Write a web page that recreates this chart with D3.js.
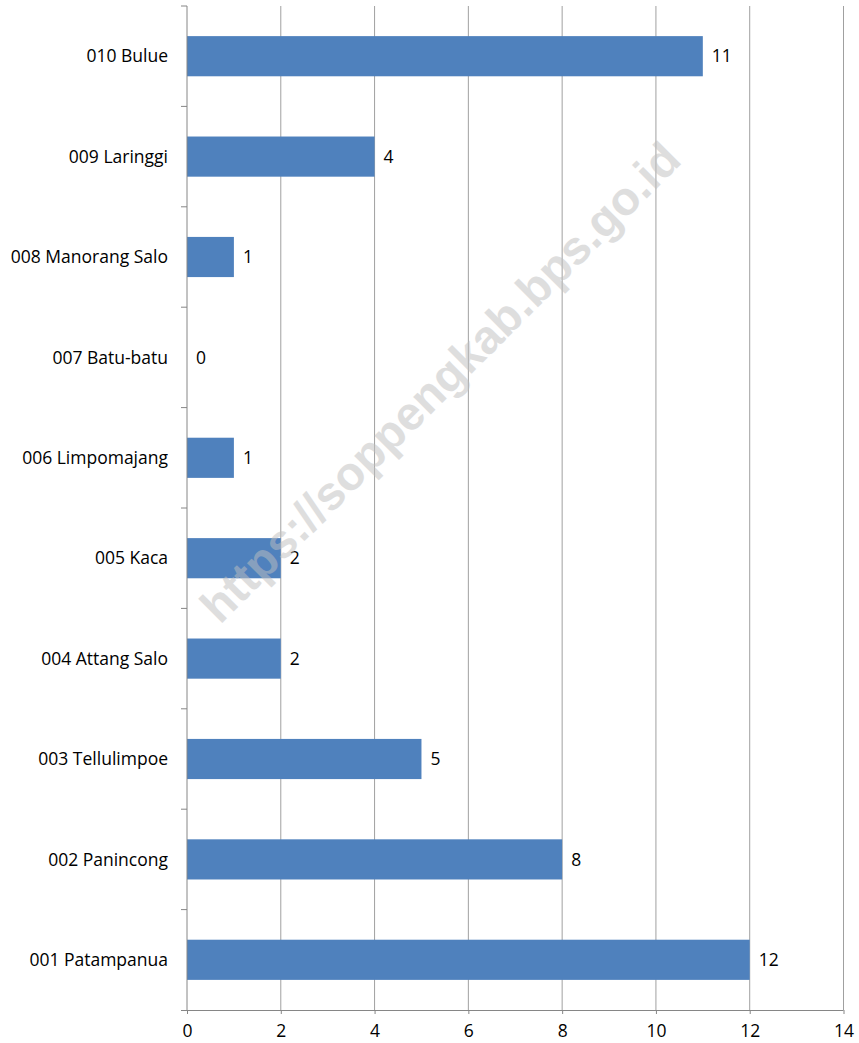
<!DOCTYPE html>
<html>
<head>
<meta charset="utf-8">
<script src="https://cdn.jsdelivr.net/npm/d3@7"></script>
<style>
  body { margin: 0; background: #fff; }
  svg text { font-family: "Open Sans", sans-serif; fill: #000; }
</style>
</head>
<body>
<svg id="chart" width="859" height="1043"></svg>
<script>
// kecamatan / desa names, top to bottom
const categories = ["010 Bulue", "009 Laringgi", "008 Manorang Salo", "007 Batu-batu",
  "006 Limpomajang", "005 Kaca", "004 Attang Salo", "003 Tellulimpoe",
  "002 Panincong", "001 Patampanua"];
const values = [11, 4, 1, 0, 1, 2, 2, 5, 8, 12];
const xTicks = [0, 2, 4, 6, 8, 10, 12, 14];
const watermark = "https://soppengkab.bps.go.id";

const svg = d3.select("#chart");
const plotLeft = 187, plotRight = 843.5, plotTop = 6, plotBottom = 1010;
const fontSize = "17.5px";

const x = d3.scaleLinear().domain([0, 14]).range([plotLeft, plotRight]);
const y = d3.scaleBand().domain(categories).range([plotTop, plotBottom]).paddingInner(0.6).paddingOuter(0.3);

//vertical gridlines
svg.append("g").selectAll("line")
  .data(xTicks.filter(d => d > 0))
  .join("line")
  .attr("x1", d => x(d)).attr("x2", d => x(d))
  .attr("y1", plotTop).attr("y2", plotBottom)
  .attr("stroke", "#a0a0a0").attr("stroke-width", 1);

//bars
svg.append("g").selectAll("rect")
  .data(values)
  .join("rect")
  .attr("x", x(0))
  .attr("y", (d, i) => y(categories[i]))
  .attr("width", d => x(d) - x(0))
  .attr("height", y.bandwidth())
  .attr("fill", "#4f81bd");

//value labels
svg.append("g").selectAll("text")
  .data(values)
  .join("text")
  .attr("x", d => x(d) + 9)
  .attr("y", (d, i) => y(categories[i]) + y.bandwidth() / 2)
  .attr("dy", "0.35em")
  .style("font-size", fontSize)
  .text(d => d);

//x axis
const xAxis = svg.append("g")
  .attr("transform", "translate(0," + plotBottom + ")")
  .call(d3.axisBottom(x).tickValues(xTicks).tickSize(4).tickPadding(11).tickSizeOuter(0));
xAxis.select(".domain").attr("stroke", "#868686").attr("d", "M" + (plotLeft - 6) + ",0.5H" + plotRight);
xAxis.selectAll(".tick line").attr("stroke", "#868686");
xAxis.selectAll("text").style("font-size", fontSize).attr("font-family", null);

//y axis, ticks sit between categories
const yAxis = svg.append("g").attr("transform", "translate(" + plotLeft + ",0)");
yAxis.append("line")
  .attr("x1", 0).attr("x2", 0).attr("y1", plotTop).attr("y2", plotBottom)
  .attr("stroke", "#868686");
const step = (plotBottom - plotTop) / categories.length;
yAxis.selectAll(".ytick")
  .data(d3.range(categories.length))
  .join("line")
  .attr("class", "ytick")
  .attr("x1", -6).attr("x2", 0)
  .attr("y1", i => plotTop + i * step).attr("y2", i => plotTop + i * step)
  .attr("stroke", "#868686");
yAxis.selectAll(".ylabel")
  .data(categories)
  .join("text")
  .attr("class", "ylabel")
  .attr("x", -19)
  .attr("y", d => y(d) + y.bandwidth() / 2)
  .attr("dy", "0.35em")
  .attr("text-anchor", "end")
  .style("font-size", fontSize)
  .text(d => d);

//watermark
svg.append("text")
  .attr("transform", "translate(440,382) rotate(-45)")
  .attr("text-anchor", "middle")
  .attr("dy", "0.35em")
  .style("font-family", "'Liberation Sans', Arial, sans-serif")
  .style("font-size", "47px")
  .style("font-weight", "bold")
  .style("fill", "#bfbfbf")
  .style("opacity", 0.5)
  .text(watermark);
</script>
</body>
</html>
